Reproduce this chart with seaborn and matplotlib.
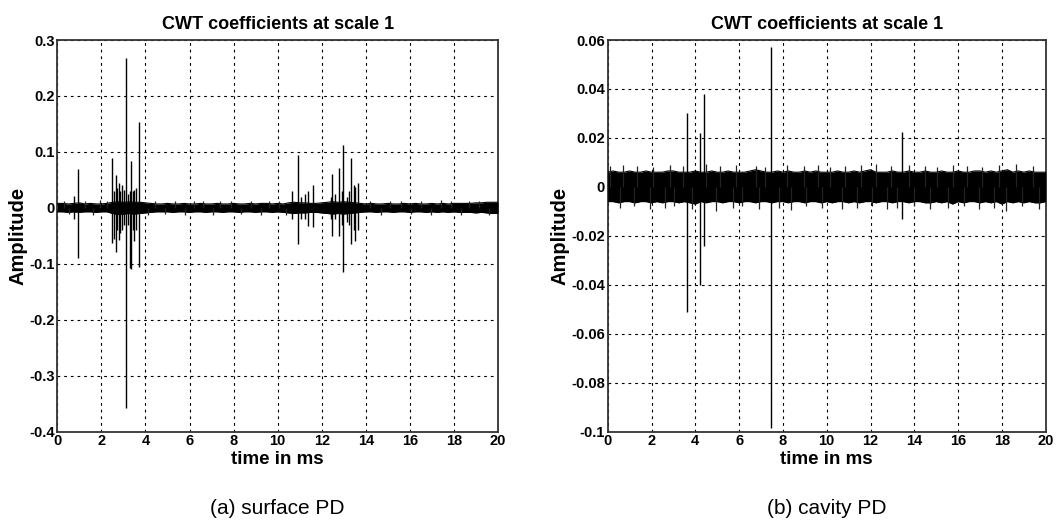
import numpy as np
import pandas as pd
import seaborn as sns
import matplotlib
matplotlib.use("Agg")
import matplotlib.pyplot as plt
from matplotlib import font_manager

# ---------------- data ----------------
time_ms = [i * 0.25 for i in range(81)]  # envelope sample times, 0..20 ms

# (a) surface PD : solid noise-band envelope (x1e-3)
a_upper = [8, 8, 7, 8, 9, 7, 8, 7, 7, 8,
           10, 11, 10, 11, 10, 10, 9, 8, 7, 7,
           8, 7, 7, 8, 7, 7, 8, 7, 7, 8,
           7, 7, 8, 7, 7, 8, 7, 8, 8, 7,
           8, 7, 9, 10, 9, 9, 8, 8, 9, 10,
           11, 10, 11, 10, 9, 8, 7, 8, 7, 7,
           8, 7, 7, 8, 7, 8, 7, 7, 8, 7,
           8, 7, 8, 8, 8, 8, 9, 9, 10, 10,
           10]
a_lower = [7, 7, 8, 7, 8, 7, 7, 8, 7, 7,
           10, 12, 11, 10, 11, 10, 9, 8, 7, 7,
           7, 8, 7, 7, 8, 7, 7, 8, 7, 7,
           8, 7, 7, 8, 7, 7, 8, 7, 7, 8,
           7, 8, 9, 10, 9, 9, 8, 8, 9, 10,
           11, 10, 11, 10, 9, 8, 7, 7, 8, 7,
           7, 8, 7, 7, 8, 7, 7, 8, 7, 8,
           7, 8, 7, 8, 8, 8, 9, 8, 9, 10,
           10]
# (a) fringe ticks on the band edge (signed, x1e-3)
a_fr_t = [0.30, 0.55, 1.25, 1.60, 1.95, 2.25, 4.10, 4.45, 4.90, 5.35, 5.80, 6.20, 6.60,
          7.05, 7.40, 7.90, 8.35, 8.80, 9.25, 9.60, 10.05, 10.40, 14.20, 14.70, 15.10,
          15.60, 16.05, 16.50, 16.95, 17.40, 17.85, 18.30, 18.70, 19.15, 19.60]
a_fr_v = [12, -11, 13, -12, 14, 12, -12, 13, -11, 12, -13, 12, 13,
          -12, 12, 13, -11, 12, -13, 12, 13, -12, 12, -12, 13,
          12, -11, 13, -12, 14, 12, -13, 12, 13, -12]
# (a) discharge spikes: time, positive peak, negative peak
a_spk_t = [0.75, 0.95, 2.50, 2.59, 2.65, 2.72, 2.79, 2.86, 2.95, 3.02, 3.12,
           3.20, 3.30, 3.35, 3.42, 3.50, 3.58, 3.72,
           10.67, 10.94, 11.05, 11.22, 11.36, 11.60, 12.40, 12.48, 12.60, 12.77,
           12.90, 12.98, 13.13, 13.25, 13.33, 13.45, 13.53, 13.66]
a_spk_hi = [0.022, 0.069, 0.090, 0.030, 0.058, 0.035, 0.045, 0.030, 0.040, 0.032, 0.268,
            0.025, 0.030, 0.084, 0.030, 0.032, 0.035, 0.153,
            0.030, 0.095, 0.020, 0.025, 0.030, 0.041, 0.020, 0.060, 0.025, 0.071,
            0.030, 0.112, 0.020, 0.030, 0.090, 0.040, 0.037, 0.044]
a_spk_lo = [-0.020, -0.089, -0.063, -0.055, -0.079, -0.040, -0.057, -0.045, -0.040, -0.030, -0.358,
            -0.030, -0.108, -0.110, -0.040, -0.060, -0.039, -0.105,
            -0.020, -0.064, -0.020, -0.020, -0.033, -0.035, -0.020, -0.050, -0.020, -0.050,
            -0.030, -0.114, -0.025, -0.030, -0.065, -0.040, -0.060, -0.040]

# (b) cavity PD : solid noise-band envelope (x1e-3)
b_upper = [6, 6.5, 6, 6, 6.5, 6, 6, 6.5, 6, 6,
           6, 6.5, 6.5, 6, 6, 6, 6.5, 6, 6, 6.5,
           6, 6, 6.5, 6, 6, 6, 6.5, 7, 6.5, 6,
           6, 6.5, 6, 6.5, 6, 6, 6.5, 6, 6.5, 6,
           6, 6, 6.5, 6, 6, 6.5, 6, 6.5, 7, 6,
           6, 6, 6.5, 6, 6, 6.5, 6, 6, 6.5, 6,
           6, 6.5, 6, 6, 6.5, 6, 6, 6.5, 6.5, 6,
           6.5, 6, 6.5, 7, 6, 6.5, 6, 6.5, 6, 6,
           6]
b_lower = [6, 6, 6.5, 6, 6, 6.5, 6, 6, 6.5, 6,
           6.5, 6, 6, 6.5, 6, 6.5, 7, 6, 6.5, 6,
           6, 6.5, 6, 6, 6.5, 6, 6, 6.5, 6, 6,
           6.5, 6, 6, 6.5, 6, 6, 6.5, 6, 6, 6.5,
           6, 6.5, 6, 6, 6.5, 6, 6.5, 6, 6, 6.5,
           6, 6, 6.5, 6, 6, 6.5, 6, 6, 6.5, 6.5,
           6, 6.5, 6, 7, 6, 6.5, 6, 6, 6.5, 6,
           6.5, 6, 7, 6, 6.5, 6, 6.5, 6, 6.5, 6.5,
           6]
# (b) fringe ticks on the band edge (signed, x1e-3)
b_fr_t = [0.10, 0.55, 0.70, 1.20, 1.35, 1.95, 2.05, 2.60, 2.85, 3.05, 3.45, 3.85,
          4.50, 4.95, 5.15, 5.70, 5.85, 6.15, 6.75, 6.90, 7.20, 7.80, 8.20, 8.35,
          8.95, 9.05, 9.60, 9.80, 10.15, 10.70, 10.85, 11.40, 11.55, 12.05, 12.25,
          12.75, 12.95, 13.20, 13.75, 14.00, 14.50, 14.70, 15.05, 15.55, 15.75,
          16.25, 16.40, 16.95, 17.10, 17.65, 17.85, 18.20, 18.65, 18.90, 19.40, 19.70]
b_fr_v = [8.5, -8.5, 9, -8, 8.5, -9, 8, -8.5, 9, -8, 8.5, -9,
          9.5, -10, 8.5, -8.5, 9, -8, 8.5, -9, 8, -8.5, 9, -9.5,
          8.5, -8, 9, -8.5, 8, -9, 8.5, -8.5, 9, -8, 9.5, -9,
          8.5, -8.5, 9, -8, 8.5, -9, 8, -8.5, 9, -8,
          8.5, -9, 8, -8.5, 9, -10, 9.5, -8, 8.5, -9]
b_spk_t = [3.60, 4.21, 4.38, 7.46, 13.45]
b_spk_hi = [0.030, 0.022, 0.038, 0.057, 0.0223]
b_spk_lo = [-0.051, -0.040, -0.024, -0.0986, -0.013]

titles = ["CWT coefficients at scale 1", "CWT coefficients at scale 1"]
captions = ["(a) surface PD", "(b) cavity PD"]
x_ticks = [0, 2, 4, 6, 8, 10, 12, 14, 16, 18, 20]
a_yticks = [-0.4, -0.3, -0.2, -0.1, 0, 0.1, 0.2, 0.3]
a_ylabels = ["-0.4", "-0.3", "-0.2", "-0.1", "0", "0.1", "0.2", "0.3"]
b_yticks = [-0.1, -0.08, -0.06, -0.04, -0.02, 0, 0.02, 0.04, 0.06]
b_ylabels = ["-0.1", "-0.08", "-0.06", "-0.04", "-0.02", "0", "0.02", "0.04", "0.06"]

# ---------------- style ----------------
sns.set_theme(style="white")
names = {f.name for f in font_manager.fontManager.ttflist}
narrow = "Liberation Sans Narrow" if "Liberation Sans Narrow" in names else "Liberation Sans"
plt.rcParams["font.family"] = [narrow, "DejaVu Sans"]

fig = plt.figure(figsize=(10.64, 5.22), dpi=100)
fig.patch.set_facecolor("white")

panels = [
    (a_upper, a_lower, a_fr_t, a_fr_v, a_spk_t, a_spk_hi, a_spk_lo, (-0.4, 0.3), a_yticks, a_ylabels,
     [57.3 / 1064, 1 - 431.7 / 522, (498 - 57.3) / 1064, (431.7 - 40) / 522]),
    (b_upper, b_lower, b_fr_t, b_fr_v, b_spk_t, b_spk_hi, b_spk_lo, (-0.1, 0.06), b_yticks, b_ylabels,
     [607.7 / 1064, 1 - 431.7 / 522, (1045.7 - 607.7) / 1064, (431.7 - 40) / 522]),
]

for i, (up, lo, ft, fv, st, sh, sl, ylim, yt, yl, rect) in enumerate(panels):
    ax = fig.add_axes(rect)
    env = pd.DataFrame({"t": time_ms,
                        "up": np.array(up) * 1e-3,
                        "lo": -np.array(lo) * 1e-3})
    ax.fill_between(env["t"], env["lo"], env["up"], color="black", lw=0, zorder=3)
    sns.lineplot(data=env, x="t", y="up", ax=ax, color="black", lw=0.8, zorder=3)
    sns.lineplot(data=env, x="t", y="lo", ax=ax, color="black", lw=0.8, zorder=3)
    fringe = pd.DataFrame({"t": ft, "v": np.array(fv) * 1e-3})
    ax.vlines(fringe["t"], 0, fringe["v"], color="#222222", lw=0.9, zorder=3)
    spikes = pd.DataFrame({"t": st, "hi": sh, "lo": sl})
    ax.vlines(spikes["t"], spikes["lo"], spikes["hi"], color="black", lw=1.0, zorder=3)

    ax.set_xlim(0, 20)
    ax.set_ylim(*ylim)
    ax.set_xticks(x_ticks)
    ax.set_xticklabels([str(v) for v in x_ticks], fontsize=10.5, fontweight="bold")
    ax.set_yticks(yt)
    ax.set_yticklabels(yl, fontsize=10.5, fontweight="bold")
    ax.tick_params(axis="both", length=0, pad=2, colors="black")
    ax.grid(True, color="black", linestyle=(0, (2.5, 3.5)), lw=0.8)
    for s in ax.spines.values():
        s.set_color("#333333")
        s.set_linewidth(1.3)
        s.set_visible(True)
    ax.set_title(titles[i], fontsize=13, fontweight="bold", pad=8, color="black")
    ax.set_xlabel("time in ms", fontsize=13.5, fontweight="bold", labelpad=2, color="black")
    ax.set_ylabel("Amplitude", fontsize=14.5, fontweight="bold", labelpad=1, color="black")
    ax.set_facecolor("white")
    cx = rect[0] + rect[2] / 2
    fig.text(cx, 1 - 508 / 522, captions[i], ha="center", va="center",
             fontsize=15, family=["Liberation Sans", "DejaVu Sans"], color="black")

fig.savefig("out.png", dpi=100, facecolor="white")
